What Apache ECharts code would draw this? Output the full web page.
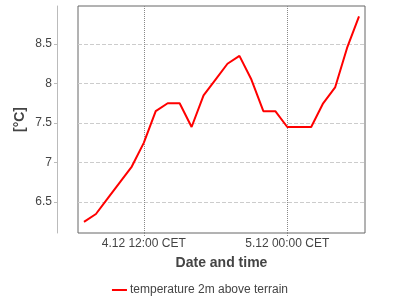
<!DOCTYPE html>
<html><head><meta charset="utf-8">
<script src="https://cdn.jsdelivr.net/npm/echarts@6/dist/echarts.min.js"></script>
<style>html,body{margin:0;padding:0;background:#fff}#c{width:400px;height:300px}</style>
</head><body><div id="c"></div>
<script>
// hours since 4.12 00:00
const hours = [7,8,9,10,11,12,13,14,15,16,17,18,19,20,21,22,23,24,25,26,27,28,29,30];
const temps = [6.25,6.35,6.55,6.75,6.95,7.25,7.65,7.75,7.75,7.45,7.85,8.05,8.25,8.35,8.05,7.65,7.65,7.45,7.45,7.45,7.75,7.95,8.45,8.85];
const xTicks = [12,24];
const xTickLabels = ['4.12 12:00 CET','5.12 00:00 CET'];
const yTicks = [6.5,7,7.5,8,8.5];
const seriesName = 'temperature 2m above terrain';

const font = 'Liberation Sans';
const chart = echarts.init(document.getElementById('c'));
chart.setOption({
  animation:false,
  textStyle:{fontFamily:font},
  grid:{left:78,right:35,top:6,bottom:67,show:true,borderColor:'#666',borderWidth:1,backgroundColor:'#fff'},
  legend:{bottom:-1,left:'center',itemWidth:15,itemHeight:2,itemGap:10,icon:'rect',
    textStyle:{fontFamily:font,fontSize:12,color:'#444',padding:[0,0,0,-2]},data:[seriesName]},
  xAxis:{type:'value',min:6.5,max:30.5,
    name:'Date and time',nameLocation:'middle',nameGap:23,
    nameTextStyle:{fontFamily:font,fontSize:14,fontWeight:'bold',color:'#444'},
    axisLine:{show:false},
    axisTick:{show:true,length:3,customValues:xTicks,lineStyle:{color:'#888',type:'dotted'}},
    axisLabel:{customValues:xTicks,color:'#444',fontSize:12,margin:5,
      formatter:v=>xTickLabels[xTicks.indexOf(v)]||''},
    splitLine:{show:true,lineStyle:{color:'#888',type:'dotted'}}
  },
  yAxis:{type:'value',min:6.11,max:8.98,offset:21,
    name:'[°C]',nameLocation:'middle',nameGap:30,nameMoveOverlap:false,
    nameTextStyle:{fontFamily:font,fontSize:14,fontWeight:'bold',color:'#444'},
    axisLine:{show:true,lineStyle:{color:'#bbb'}},
    axisTick:{show:true,length:3,customValues:yTicks,lineStyle:{color:'#bbb'}},
    axisLabel:{customValues:yTicks,color:'#444',fontSize:12,margin:5,formatter:v=>String(v)},
    splitLine:{show:true,lineStyle:{color:'#ccc',type:'dashed'}}
  },
  series:[{name:seriesName,type:'line',data:hours.map((h,i)=>[h,temps[i]]),
    showSymbol:false,symbol:'none',lineStyle:{color:'#ff0000',width:2},itemStyle:{color:'#ff0000'}}]
});
</script></body></html>
